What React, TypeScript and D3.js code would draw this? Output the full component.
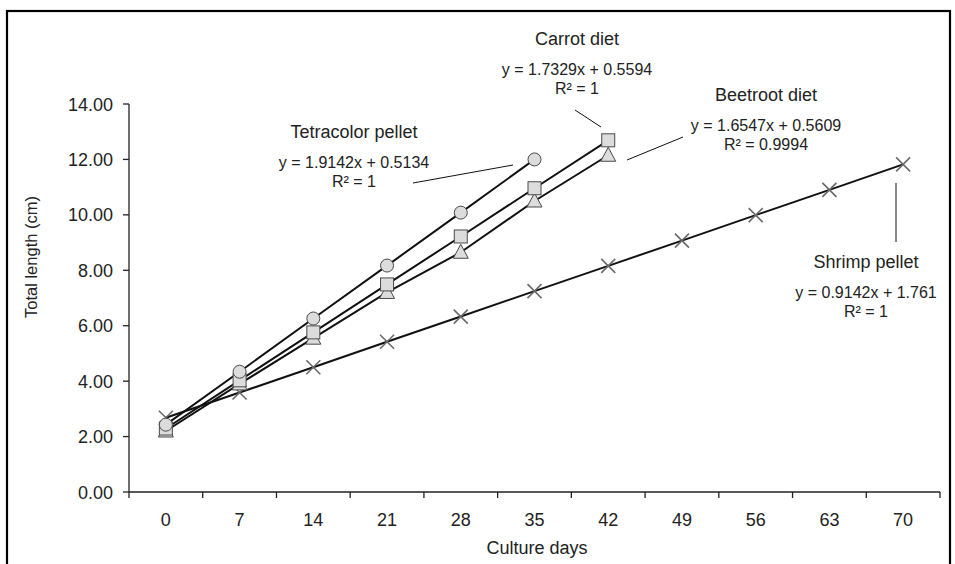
import React from "react";
import * as d3 from "d3";

const days = [0, 7, 14, 21, 28, 35, 42, 49, 56, 63, 70];
const yTicks = [0, 2, 4, 6, 8, 10, 12, 14];
const tetracolor = [2.43, 4.34, 6.26, 8.17, 10.08, 12.0];
const carrot = [2.29, 4.03, 5.76, 7.49, 9.22, 10.96, 12.69];
const beetroot = [2.2, 3.9, 5.55, 7.2, 8.65, 10.5, 12.15];
const shrimp = [2.68, 3.59, 4.5, 5.42, 6.33, 7.25, 8.16, 9.07, 9.99, 10.9, 11.82];

const W = 955;
const H = 564;
const M = { left: 129, right: 940, top: 104, bottom: 492 };
const FONT = "'Liberation Sans', Arial, sans-serif";

type Ann = { title: string; eq: string; r2: string; cx: number; by: number; line: [number, number, number, number] };
const annotations: Ann[] = [
  { title: "Tetracolor pellet", eq: "y = 1.9142x + 0.5134", r2: "R² = 1", cx: 354, by: 138, line: [413, 183, 513, 165] },
  { title: "Carrot diet", eq: "y = 1.7329x + 0.5594", r2: "R² = 1", cx: 577, by: 45, line: [575, 110, 601, 127] },
  { title: "Beetroot diet", eq: "y = 1.6547x + 0.5609", r2: "R² = 0.9994", cx: 766, by: 101, line: [627, 160, 683, 137] },
  { title: "Shrimp pellet", eq: "y = 0.9142x + 1.761", r2: "R² = 1", cx: 866, by: 268, line: [896, 183, 896, 242] },
];

export default function App() {
  const x = d3.scaleBand<number>().domain(days).range([M.left, M.right]).padding(0);
  const bw = x.bandwidth();
  const cx = (i: number) => (x(days[i]) as number) + bw / 2;
  const y = d3.scaleLinear().domain([0, 14]).range([M.bottom, M.top]);
  const line = d3
    .line<number>()
    .x((_, i) => cx(i))
    .y((v) => y(v));

  const markFill = "#dcdcdc";
  const markStroke = "#4a4a4a";

  const boundaries = days.map((d) => x(d) as number).concat([M.right]);

  return (
    <svg width={W} height={H} style={{ position: "absolute", left: 0, top: 0, background: "#fff" }} fontFamily={FONT}>
      <rect x={0} y={0} width={W} height={H} fill="#fff" />
      <rect x={7} y={11} width={943} height={570} fill="none" stroke="#000" strokeWidth={2.2} />

      {/* axes */}
      <line x1={M.left} x2={M.left} y1={M.top} y2={M.bottom} stroke="#222" strokeWidth={1.3} />
      <line x1={M.left} x2={M.right} y1={M.bottom} y2={M.bottom} stroke="#222" strokeWidth={1.3} />
      {yTicks.map((t) => (
        <g key={"y" + t}>
          <line x1={M.left - 6} x2={M.left} y1={y(t)} y2={y(t)} stroke="#222" strokeWidth={1.3} />
          <text x={113} y={y(t) + 6.5} textAnchor="end" fontSize={18} fill="#222">
            {t.toFixed(2)}
          </text>
        </g>
      ))}
      {boundaries.map((b, i) => (
        <line key={"xt" + i} x1={b} x2={b} y1={M.bottom} y2={M.bottom + 6} stroke="#222" strokeWidth={1.3} />
      ))}
      {days.map((d, i) => (
        <text key={"xl" + d} x={cx(i)} y={526} textAnchor="middle" fontSize={18} fill="#222">
          {d}
        </text>
      ))}
      <text x={537} y={554} textAnchor="middle" fontSize={18} fill="#222">
        Culture days
      </text>
      <text transform={`translate(37,257) rotate(-90)`} textAnchor="middle" fontSize={16.5} fill="#222">
        Total length (cm)
      </text>

      {/* lines */}
      <path d={line(shrimp) || ""} fill="none" stroke="#111" strokeWidth={2} />
      <path d={line(beetroot) || ""} fill="none" stroke="#111" strokeWidth={2} />
      <path d={line(carrot) || ""} fill="none" stroke="#111" strokeWidth={2} />
      <path d={line(tetracolor) || ""} fill="none" stroke="#111" strokeWidth={2} />

      {/* markers */}
      {shrimp.map((v, i) => (
        <g key={"s" + i} stroke="#6a6a6a" strokeWidth={1.6}>
          <line x1={cx(i) - 7} x2={cx(i) + 7} y1={y(v) - 7} y2={y(v) + 7} />
          <line x1={cx(i) - 7} x2={cx(i) + 7} y1={y(v) + 7} y2={y(v) - 7} />
        </g>
      ))}
      {beetroot.map((v, i) => (
        <path
          key={"b" + i}
          d={`M${cx(i)},${y(v) - 8} L${cx(i) + 7.5},${y(v) + 6} L${cx(i) - 7.5},${y(v) + 6} Z`}
          fill={markFill}
          stroke={markStroke}
          strokeWidth={1}
        />
      ))}
      {carrot.map((v, i) => (
        <rect key={"c" + i} x={cx(i) - 6.5} y={y(v) - 6.5} width={13} height={13} fill={markFill} stroke={markStroke} strokeWidth={1} />
      ))}
      {tetracolor.map((v, i) => (
        <circle key={"t" + i} cx={cx(i)} cy={y(v)} r={6.5} fill={markFill} stroke={markStroke} strokeWidth={1} />
      ))}

      {/* annotations */}
      {annotations.map((a) => (
        <g key={a.title} fill="#222">
          <text x={a.cx} y={a.by} textAnchor="middle" fontSize={18}>
            {a.title}
          </text>
          <text x={a.cx} y={a.by + 30} textAnchor="middle" fontSize={16}>
            {a.eq}
          </text>
          <text x={a.cx} y={a.by + 49} textAnchor="middle" fontSize={16}>
            {a.r2}
          </text>
          <line x1={a.line[0]} y1={a.line[1]} x2={a.line[2]} y2={a.line[3]} stroke="#111" strokeWidth={1} />
        </g>
      ))}
    </svg>
  );
}
